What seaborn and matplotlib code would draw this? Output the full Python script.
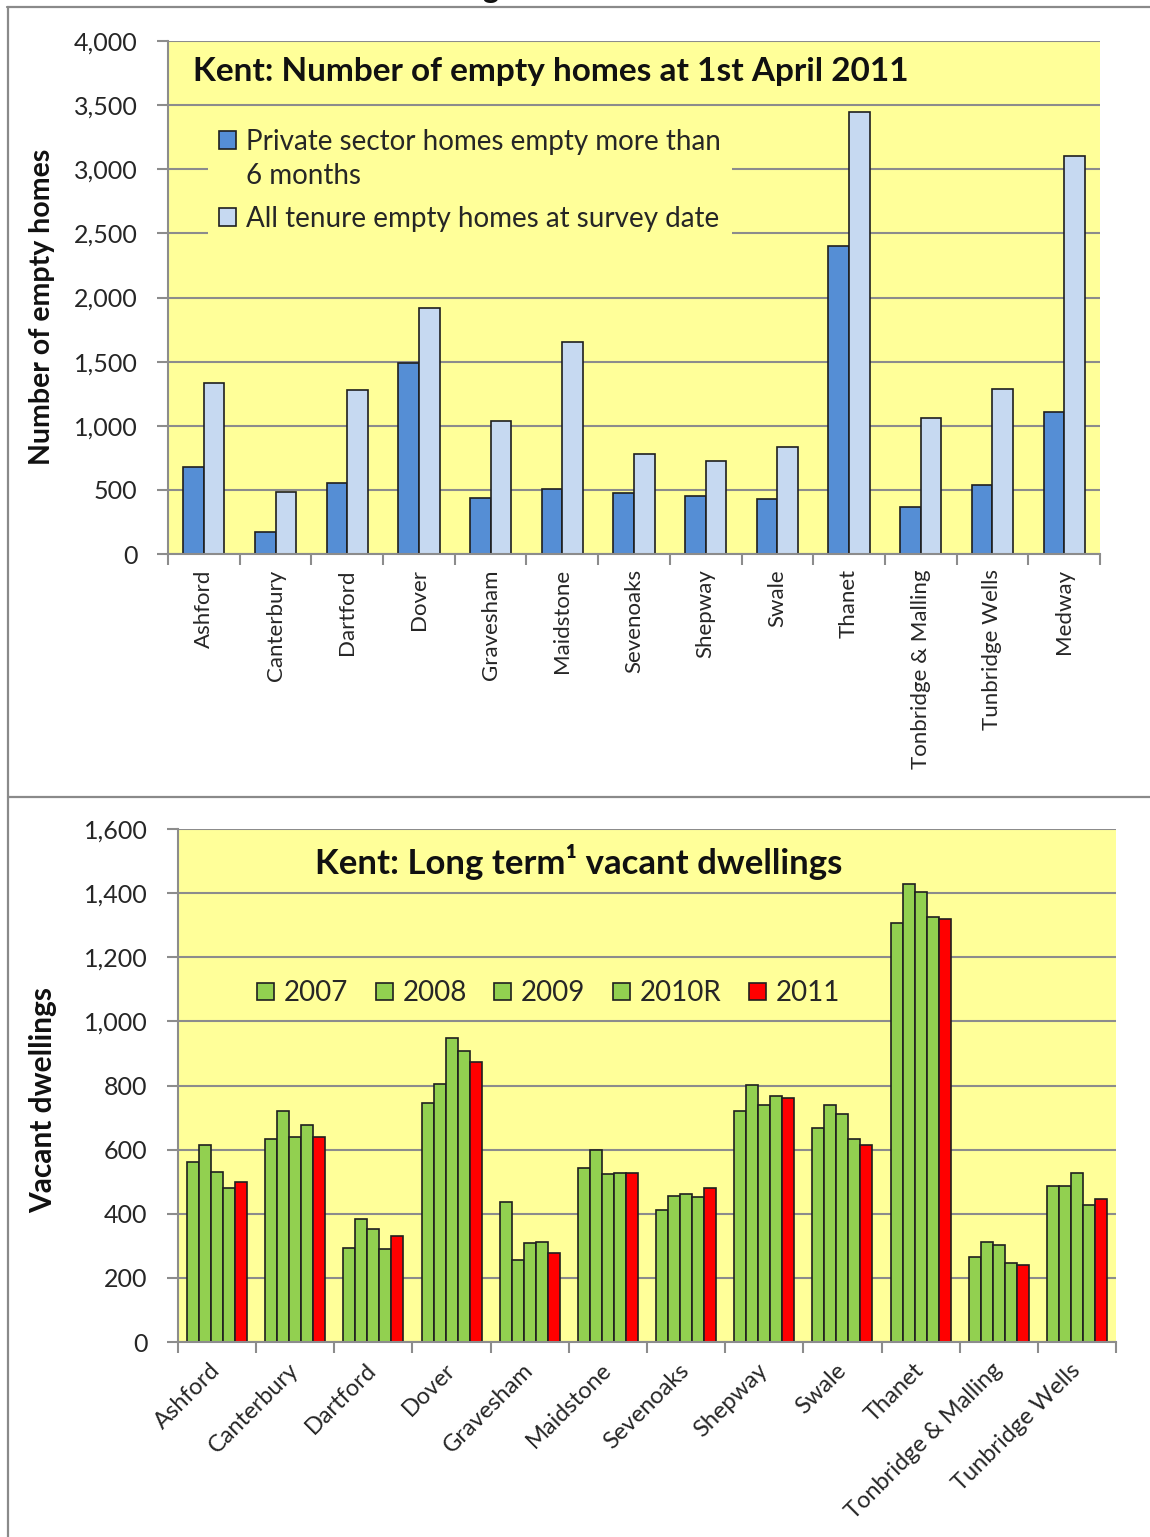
import numpy as np
import pandas as pd
import matplotlib
matplotlib.use("Agg")
import matplotlib.pyplot as plt
import matplotlib.patches as mpatches
from matplotlib.lines import Line2D
from matplotlib.legend_handler import HandlerPatch
from matplotlib.ticker import FuncFormatter, MultipleLocator, FixedLocator
import seaborn as sns

# ---- Upper chart: empty homes at 1st April 2011 ----
districts_top = ["Ashford", "Canterbury", "Dartford", "Dover", "Gravesham",
                 "Maidstone", "Sevenoaks", "Shepway", "Swale", "Thanet",
                 "Tonbridge & Malling", "Tunbridge Wells", "Medway"]
private_6m = [676, 174, 551, 1492, 439, 507, 473, 450, 426, 2404, 369, 540, 1110]
all_tenure = [1336, 483, 1279, 1916, 1040, 1653, 780, 723, 837, 3449, 1063, 1289, 3106]
series_top = ["Private sector homes empty more than\n6 months",
              "All tenure empty homes at survey date"]

# ---- Lower chart: long term vacant dwellings ----
districts_bottom = ["Ashford", "Canterbury", "Dartford", "Dover", "Gravesham",
                    "Maidstone", "Sevenoaks", "Shepway", "Swale", "Thanet",
                    "Tonbridge & Malling", "Tunbridge Wells"]
years = ["2007", "2008", "2009", "2010R", "2011"]
v2007 = [562, 634, 294, 744, 437, 542, 413, 720, 668, 1308, 266, 485]
v2008 = [615, 720, 385, 806, 255, 600, 456, 801, 738, 1428, 313, 485]
v2009 = [529, 640, 351, 949, 308, 523, 462, 738, 710, 1404, 303, 528]
v2010r = [481, 676, 290, 907, 313, 528, 452, 768, 634, 1327, 246, 428]
v2011 = [500, 640, 331, 873, 279, 528, 481, 762, 615, 1318, 241, 447]

top_colors = ["#558ED5", "#C6D9F1"]
bottom_colors = ["#92D050", "#92D050", "#92D050", "#92D050", "#FF0000"]
PLOT_BG = "#FFFF99"
GRID = "#8c8c8c"
EDGE = "#1f1f1f"
TXT = "#262626"

df_top = pd.DataFrame({
    "district": districts_top * 2,
    "homes": private_6m + all_tenure,
    "series": [series_top[0]] * len(districts_top) + [series_top[1]] * len(districts_top),
})
year_values = [v2007, v2008, v2009, v2010r, v2011]
df_bottom = pd.DataFrame({
    "district": districts_bottom * len(years),
    "dwellings": sum(year_values, []),
    "year": [y for y in years for _ in districts_bottom],
})

sns.set_theme(style="white")
plt.rcParams["font.family"] = ["Lato", "DejaVu Sans"]

W, H = 1150, 1537
fig = plt.figure(figsize=(W / 100, H / 100), dpi=100)


def px_axes(l, t, r, b):
    return fig.add_axes([l / W, 1 - b / H, (r - l) / W, (b - t) / H])


def style_axes(ax, n, ymax, step):
    ax.set_facecolor(PLOT_BG)
    ax.set_xlim(-0.5, n - 0.5)
    ax.set_ylim(0, ymax)
    ax.yaxis.set_major_locator(MultipleLocator(step))
    ax.yaxis.set_major_formatter(FuncFormatter(lambda v, p: f"{v:,.0f}"))
    ax.grid(axis="y", color=GRID, lw=1.5)
    ax.grid(axis="x", visible=False)
    ax.set_axisbelow(True)
    for s in ("top", "right"):
        ax.spines[s].set_visible(False)
    for s in ("left", "bottom"):
        ax.spines[s].set_color(GRID)
        ax.spines[s].set_linewidth(1.5)
    ax.tick_params(axis="y", direction="out", length=8, width=1.5, color=GRID,
                   pad=14, labelsize=18, labelcolor=TXT, left=True)
    ax.xaxis.set_minor_locator(FixedLocator(np.arange(-0.5, n, 1.0)))
    ax.tick_params(axis="x", which="minor", direction="out", length=8,
                   width=1.5, color=GRID, bottom=True)
    ax.tick_params(axis="x", which="major", length=0, labelcolor=TXT)
    ax.set_xlabel("")


def raised_square(shift):
    # legend key that sits beside the first line of a two-line label
    def make(legend, orig_handle, xdescent, ydescent, width, height, fontsize):
        return mpatches.Rectangle((-xdescent, -ydescent + shift), width, height)
    return HandlerPatch(patch_func=make)


# Upper chart
ax1 = px_axes(168, 41, 1100, 554)
sns.barplot(data=df_top, x="district", y="homes", hue="series",
            order=districts_top, hue_order=series_top, palette=top_colors,
            width=0.576, gap=0, saturation=1, edgecolor=EDGE, linewidth=1.2,
            ax=ax1, legend=False)
style_axes(ax1, len(districts_top), 4000, 500)
ax1.tick_params(axis="x", which="major", labelrotation=90, labelsize=16, pad=11)
ax1.set_ylabel("Number of empty homes", fontsize=20.5, fontweight="bold", color="#111111")
ax1.yaxis.set_label_coords(-0.121, 0.481)
ax1.text(0.027, 0.94, "Kent: Number of empty homes at 1st April 2011",
         transform=ax1.transAxes, fontsize=24, fontweight="bold",
         ha="left", va="center", color="#111111")
h_top = [mpatches.Patch(facecolor=c, edgecolor=EDGE, lw=1.2) for c in top_colors]
leg1 = ax1.legend(h_top, series_top, loc="upper left", bbox_to_anchor=(0.028, 0.878),
                  frameon=True, facecolor=PLOT_BG, edgecolor="none", framealpha=1,
                  fancybox=False, fontsize=20, handlelength=0.62, handleheight=0.62,
                  handletextpad=0.35, labelspacing=0.6, borderpad=0.4,
                  handler_map={h_top[0]: raised_square(14)})
for t in leg1.get_texts():
    t.set_color(TXT)
    t.set_linespacing(1.4)

# Lower chart
ax2 = px_axes(178, 829, 1116, 1342)
sns.barplot(data=df_bottom, x="district", y="dwellings", hue="year",
            order=districts_bottom, hue_order=years, palette=bottom_colors,
            width=0.767, gap=0, saturation=1, edgecolor=EDGE, linewidth=1.2,
            ax=ax2, legend=False)
style_axes(ax2, len(districts_bottom), 1600, 200)
ax2.tick_params(axis="x", which="major", labelsize=17, pad=18)
for lbl in ax2.get_xticklabels():
    lbl.set_rotation(45)
    lbl.set_ha("right")
    lbl.set_va("center")
    lbl.set_rotation_mode("anchor")
ax2.set_ylabel("Vacant dwellings", fontsize=21.5, fontweight="bold", color="#111111")
ax2.yaxis.set_label_coords(-0.129, 0.472)
ax2.text(0.146, 0.936, "Kent: Long term\u00b9 vacant dwellings",
         transform=ax2.transAxes, fontsize=25, fontweight="bold",
         ha="left", va="center", color="#111111")
h_bot = [mpatches.Patch(facecolor=c, edgecolor=EDGE, lw=1.2) for c in bottom_colors]
leg2 = ax2.legend(h_bot, years, loc="center left", bbox_to_anchor=(0.058, 0.68),
                  ncol=5, frameon=False, fontsize=20, handlelength=0.6,
                  handleheight=0.6, handletextpad=0.35, columnspacing=1.0)
for t in leg2.get_texts():
    t.set_color(TXT)

# Panel frames
frame_kw = dict(transform=fig.transFigure, color="#8a8a8a", lw=1.6)
fig.add_artist(Line2D([8 / W, 8 / W], [1 - 7 / H, 0], **frame_kw))
fig.add_artist(Line2D([7 / W, 1], [1 - 7 / H, 1 - 7 / H], **frame_kw))
fig.add_artist(Line2D([8 / W, 1], [1 - 797 / H, 1 - 797 / H], **frame_kw))
fig.text(490 / W, 1 + 2 / H, "g", fontsize=22, fontweight="bold",
         ha="center", va="baseline", color="#111111")

fig.savefig("out.png", dpi=100)
